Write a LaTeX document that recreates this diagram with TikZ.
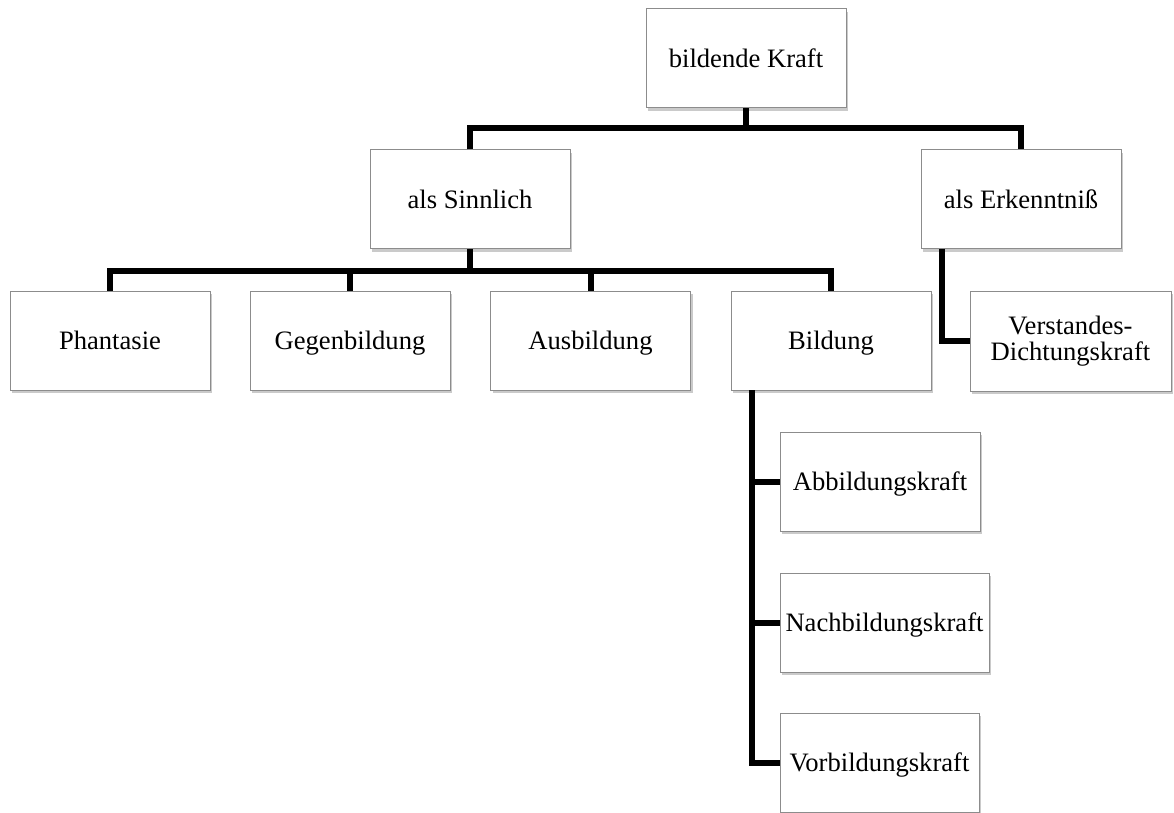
\documentclass[tikz,border=0pt]{standalone}
\usepackage{fontspec}
\setmainfont{Liberation Serif}
\usetikzlibrary{shadows}
\begin{document}
\begin{tikzpicture}[x=0.5pt,y=-0.5pt,
  box/.style={draw=black!45, line width=0.5pt, fill=white, minimum width=100pt, minimum height=49.5pt,
    inner sep=1pt, align=center, font=\fontsize{13.3pt}{13pt}\selectfont,
    drop shadow={shadow xshift=1pt, shadow yshift=-1.5pt, opacity=0.35, fill=black!60}},
  oneline/.style={text height=8.8pt, text depth=0pt},
  conn/.style={line width=3pt, black}]
\useasboundingbox (0,0) rectangle (1174,813);
\begin{scope}
\clip (0,0) rectangle (1174,813);
\node[box, oneline] (top) at (746,58.5) {bildende Kraft};
\node[box, oneline] (sinn) at (470,199.5) {als Sinnlich};
\node[box, oneline] (erk) at (1021,199.5) {als Erkenntniß};
\node[box, oneline] (phan) at (110,340.5) {Phantasie};
\node[box, oneline] (gegen) at (350,340.5) {Gegenbildung};
\node[box, oneline] (aus) at (590.5,340.5) {Ausbildung};
\node[box, oneline] (bild) at (831,340.5) {Bildung};
\node[box, minimum width=100.5pt, minimum height=50pt] (verst) at (1070.5,341) {Verstandes-\\Dichtungskraft};
\node[box, oneline] (abb) at (880,481.5) {Abbildungskraft};
\node[box, oneline, minimum width=104.5pt] (nach) at (884.5,622.5) {Nachbildungskraft};
\node[box, oneline, minimum width=99.5pt] (vor) at (879.5,762.5) {Vorbildungskraft};
\end{scope}
\coordinate (bus1) at (746,128);
\coordinate (bus2) at (470,271);
\coordinate (btap) at (752,390);
\coordinate (etap) at (942,249);
\draw[conn] (top.south) -- (bus1);
\draw[conn] (sinn.north) -- (sinn.north |- bus1) -- (erk.north |- bus1) -- (erk.north);
\draw[conn] (sinn.south) -- (bus2);
\draw[conn] (phan.north) -- (phan.north |- bus2) -- (bild.north |- bus2) -- (bild.north);
\draw[conn] (gegen.north) -- (gegen.north |- bus2);
\draw[conn] (aus.north) -- (aus.north |- bus2);
\draw[conn] (etap) |- (verst.west);
\draw[conn] (btap) |- (vor.west);
\draw[conn] (abb.west -| btap) -- (abb.west);
\draw[conn] (nach.west -| btap) -- (nach.west);
\end{tikzpicture}
\end{document}
